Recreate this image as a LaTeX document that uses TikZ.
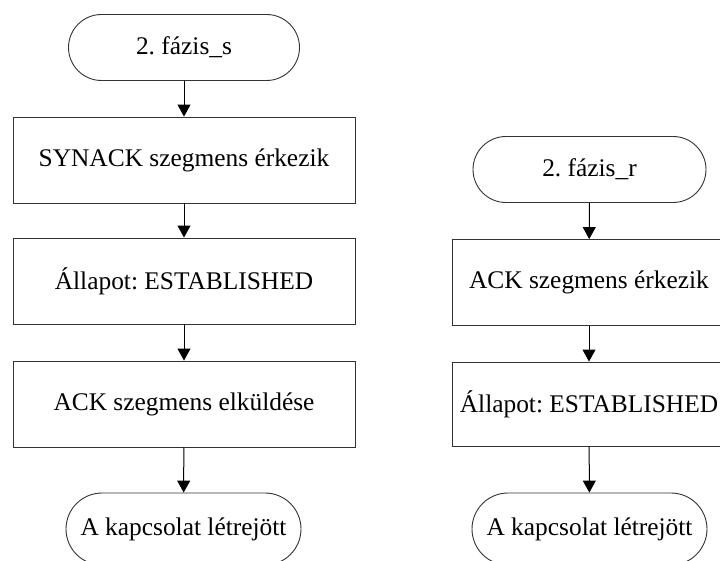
\documentclass[tikz,border=0pt]{standalone}
\usepackage{fontspec}
\setmainfont{Liberation Serif}
\usetikzlibrary{arrows.meta}
\frenchspacing
\begin{document}
\begin{tikzpicture}[x=1pt,y=-1pt,
  every node/.style={font=\fontsize{25.4}{28}\selectfont, text=black, inner sep=0pt},
  procbox/.style={draw=black!80, line width=0.9pt, minimum width=342pt, minimum height=86pt},
  termbox/.style={draw=black!80, line width=0.9pt, rounded corners=33pt, minimum height=66pt},
  endbox/.style={draw=black!80, line width=0.9pt, rounded corners=36pt, minimum height=72pt},
  flow/.style={draw=black, line width=1pt, -{Triangle[width=13pt,length=12pt]}}
]
\useasboundingbox (0,0) rectangle (720,561);
\clip (0,0) rectangle (720,561);
% sender side
\node[termbox, minimum width=231pt] (s0) at (184,47.5) {2. fázis\_s};
\node[procbox] (s1) at (184,160) {SYNACK szegmens érkezik};
\node[procbox] (s2) at (184,281) {Állapot: ESTABLISHED};
\node[procbox] (s3) at (184,404) {ACK szegmens elküldése};
\node[endbox, minimum width=235pt] (s4) at (183.5,529) {\raisebox{3pt}{A kapcsolat létrejött}};
\draw[flow] (s0) -- (s1);
\draw[flow] (s1) -- (s2);
\draw[flow] (s2) -- (s3);
\draw[flow] (s3) -- (s4);
% receiver side
\node[termbox, minimum width=233pt] (r0) at (589.5,169.5) {2. fázis\_r};
\node[procbox, minimum width=274pt] (r1) at (589,282.5) {ACK szegmens érkezik};
\node[procbox, minimum width=274pt, minimum height=84pt] (r2) at (589,404) {Állapot: ESTABLISHED};
\node[endbox, minimum width=235pt] (r3) at (589.5,529) {\raisebox{3pt}{A kapcsolat létrejött}};
\draw[flow] (r0) -- (r1);
\draw[flow] (r1) -- (r2);
\draw[flow] (r2) -- (r3);
\end{tikzpicture}
\end{document}
